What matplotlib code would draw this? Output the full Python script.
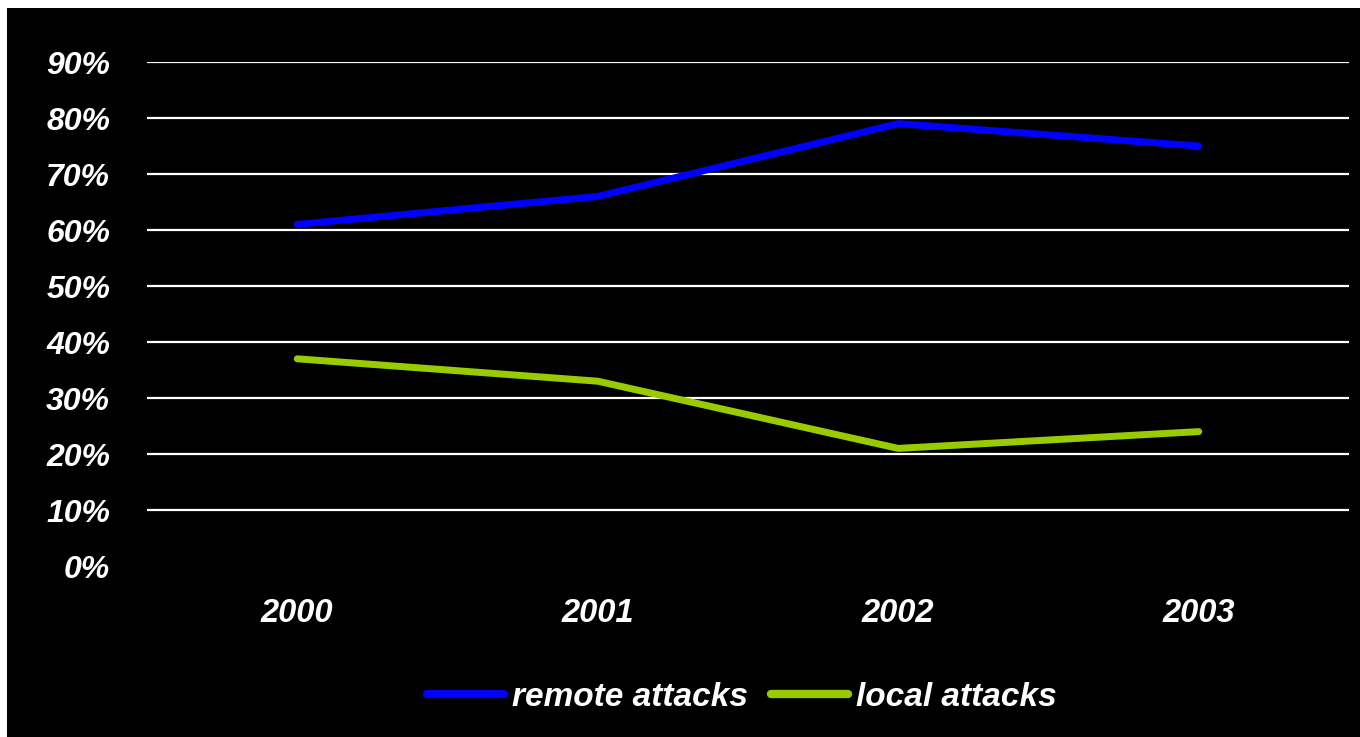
import matplotlib
matplotlib.use("Agg")
import matplotlib.pyplot as plt
from matplotlib.patches import Rectangle
from matplotlib.ticker import FixedLocator, FuncFormatter

years = ["2000", "2001", "2002", "2003"]
remote = [0.61, 0.66, 0.79, 0.75]
local = [0.37, 0.33, 0.21, 0.24]
yticks = [0.0, 0.1, 0.2, 0.3, 0.4, 0.5, 0.6, 0.7, 0.8, 0.9]

plt.rcParams['font.family'] = ['Liberation Sans', 'DejaVu Sans']

fig = plt.figure(figsize=(13.6, 7.37), dpi=100, facecolor='white')
fig.patches.append(Rectangle((7/1360, 0), 1 - 7/1360, 1 - 8/737,
                             transform=fig.transFigure, facecolor='black',
                             edgecolor='none', zorder=-10))
ax = fig.add_axes([147/1360, 1 - 566/737, (1349 - 147)/1360, (566 - 62)/737])
ax.set_facecolor('black')

x = list(range(len(years)))
ax.plot(x, remote, color='#0000FF', lw=5.0, solid_capstyle='round',
        solid_joinstyle='miter', label='remote attacks', zorder=3)
ax.plot(x, local, color='#99CC00', lw=5.0, solid_capstyle='round',
        solid_joinstyle='miter', label='local attacks', zorder=3)

ax.set_xlim(-0.5, len(years) - 0.5)
ax.set_ylim(0, 0.9)
ax.yaxis.set_major_locator(FixedLocator(yticks))
ax.yaxis.set_major_formatter(FuncFormatter(lambda v, p: f"{round(v*100)}%"))
ax.set_xticks(x)
ax.set_xticklabels(years)

for s in ax.spines.values():
    s.set_visible(False)
ax.tick_params(axis='y', length=0, colors='white', labelsize=23, pad=26.5)
ax.tick_params(axis='x', length=0, colors='white', labelsize=23.5, pad=23)
for lab in ax.get_xticklabels() + ax.get_yticklabels():
    lab.set_fontweight('bold')
    lab.set_fontstyle('italic')
    lab.set_color('white')

ax.yaxis.grid(True, color='white', lw=1.6)
ax.set_axisbelow(True)
ax.get_ygridlines()[0].set_visible(False)

leg = fig.legend(loc='center', bbox_to_anchor=(742/1360, 1 - 697/737), ncol=2,
                 frameon=False, handlelength=2.3, handletextpad=0.25,
                 columnspacing=0.7,
                 prop={'family': 'Liberation Sans', 'weight': 'bold',
                       'style': 'italic', 'size': 24})
for t in leg.get_texts():
    t.set_color('white')
for h in leg.legend_handles:
    h.set_linewidth(6)

fig.savefig('out.png', dpi=100, facecolor='white')
